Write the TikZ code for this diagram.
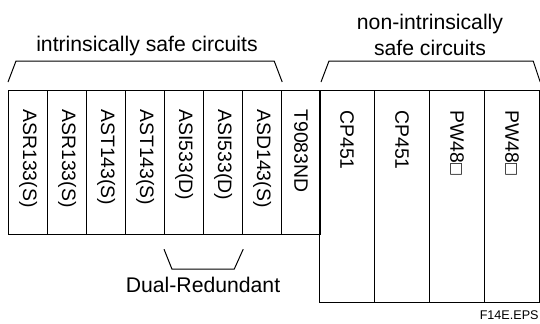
\documentclass[tikz,border=0pt]{standalone}
\usepackage{fontspec}
\setmainfont{Liberation Sans}
\usetikzlibrary{positioning}

\tikzset{
  module/.style={draw, line width=0.6pt, anchor=north west, inner sep=0pt},
  smallmod/.style={module, minimum width=19.5pt, minimum height=72pt},
  bigmod/.style={module, minimum width=27.5pt, minimum height=106pt},
  modlabel/.style={rotate=-90, anchor=west, inner sep=0pt, font=\fontsize{9.7}{11}\selectfont},
  brace/.style={line width=0.5pt},
  heading/.style={font=\fontsize{10.6}{13}\selectfont, align=center, inner sep=0pt}
}

\begin{document}
\begin{tikzpicture}[x=0.5pt, y=-0.5pt]
    \useasboundingbox (0,0) rectangle (540,323);
    % intrinsically safe modules
    \foreach \lab [count=\i] in {{ASR133(S)},{ASR133(S)},{AST143(S)},{AST143(S)},{ASI533(D)},{ASI533(D)},{ASD143(S)},{T9083ND}}{
      \node[smallmod] (m\i) at ({8+39*(\i-1)},90) {};
      \node[modlabel] (l\i) at ([yshift=-9.5pt]m\i.north) {\lab};
    }
    % non-intrinsically safe modules
    \foreach \lab [count=\i from 9] in {CP451,CP451,PW48□,PW48□}{
      \node[bigmod] (m\i) at ({319+55*(\i-9)},90) {};
      \node[modlabel] (l\i) at ([yshift=-10pt]m\i.north) {\lab};
    }
    % brackets
    \draw[brace] ([yshift=4pt]m1.north west)
      -- ([shift={(4pt,14.5pt)}]m1.north west)
      -- ([shift={(-4pt,14.5pt)}]m7.north east)
      -- ([yshift=4pt]m7.north east);
    \draw[brace] ([shift={(1pt,4pt)}]m9.north west)
      -- ([shift={(5pt,14.5pt)}]m9.north west)
      -- ([shift={(-3.5pt,14.5pt)}]m12.north east)
      -- ([yshift=4pt]m12.north east);
    \draw[brace] ([yshift=-7pt]m5.south west)
      -- ([shift={(4pt,-17pt)}]m5.south west)
      -- ([shift={(-4.5pt,-17pt)}]m6.south east)
      -- ([yshift=-7pt]m6.south east);
    \node[heading] (safe) at (147,46) {intrinsically safe circuits};
    \node[heading] (nonsafe) at (430,35) {non-intrinsically\\safe circuits};
    \node[heading] (dual) at (203,285) {Dual-Redundant};
    \node[anchor=east, inner sep=0pt, font=\fontsize{6.3}{7}\selectfont] (fig) at (539,315) {F14E.EPS};
\end{tikzpicture}
\end{document}
